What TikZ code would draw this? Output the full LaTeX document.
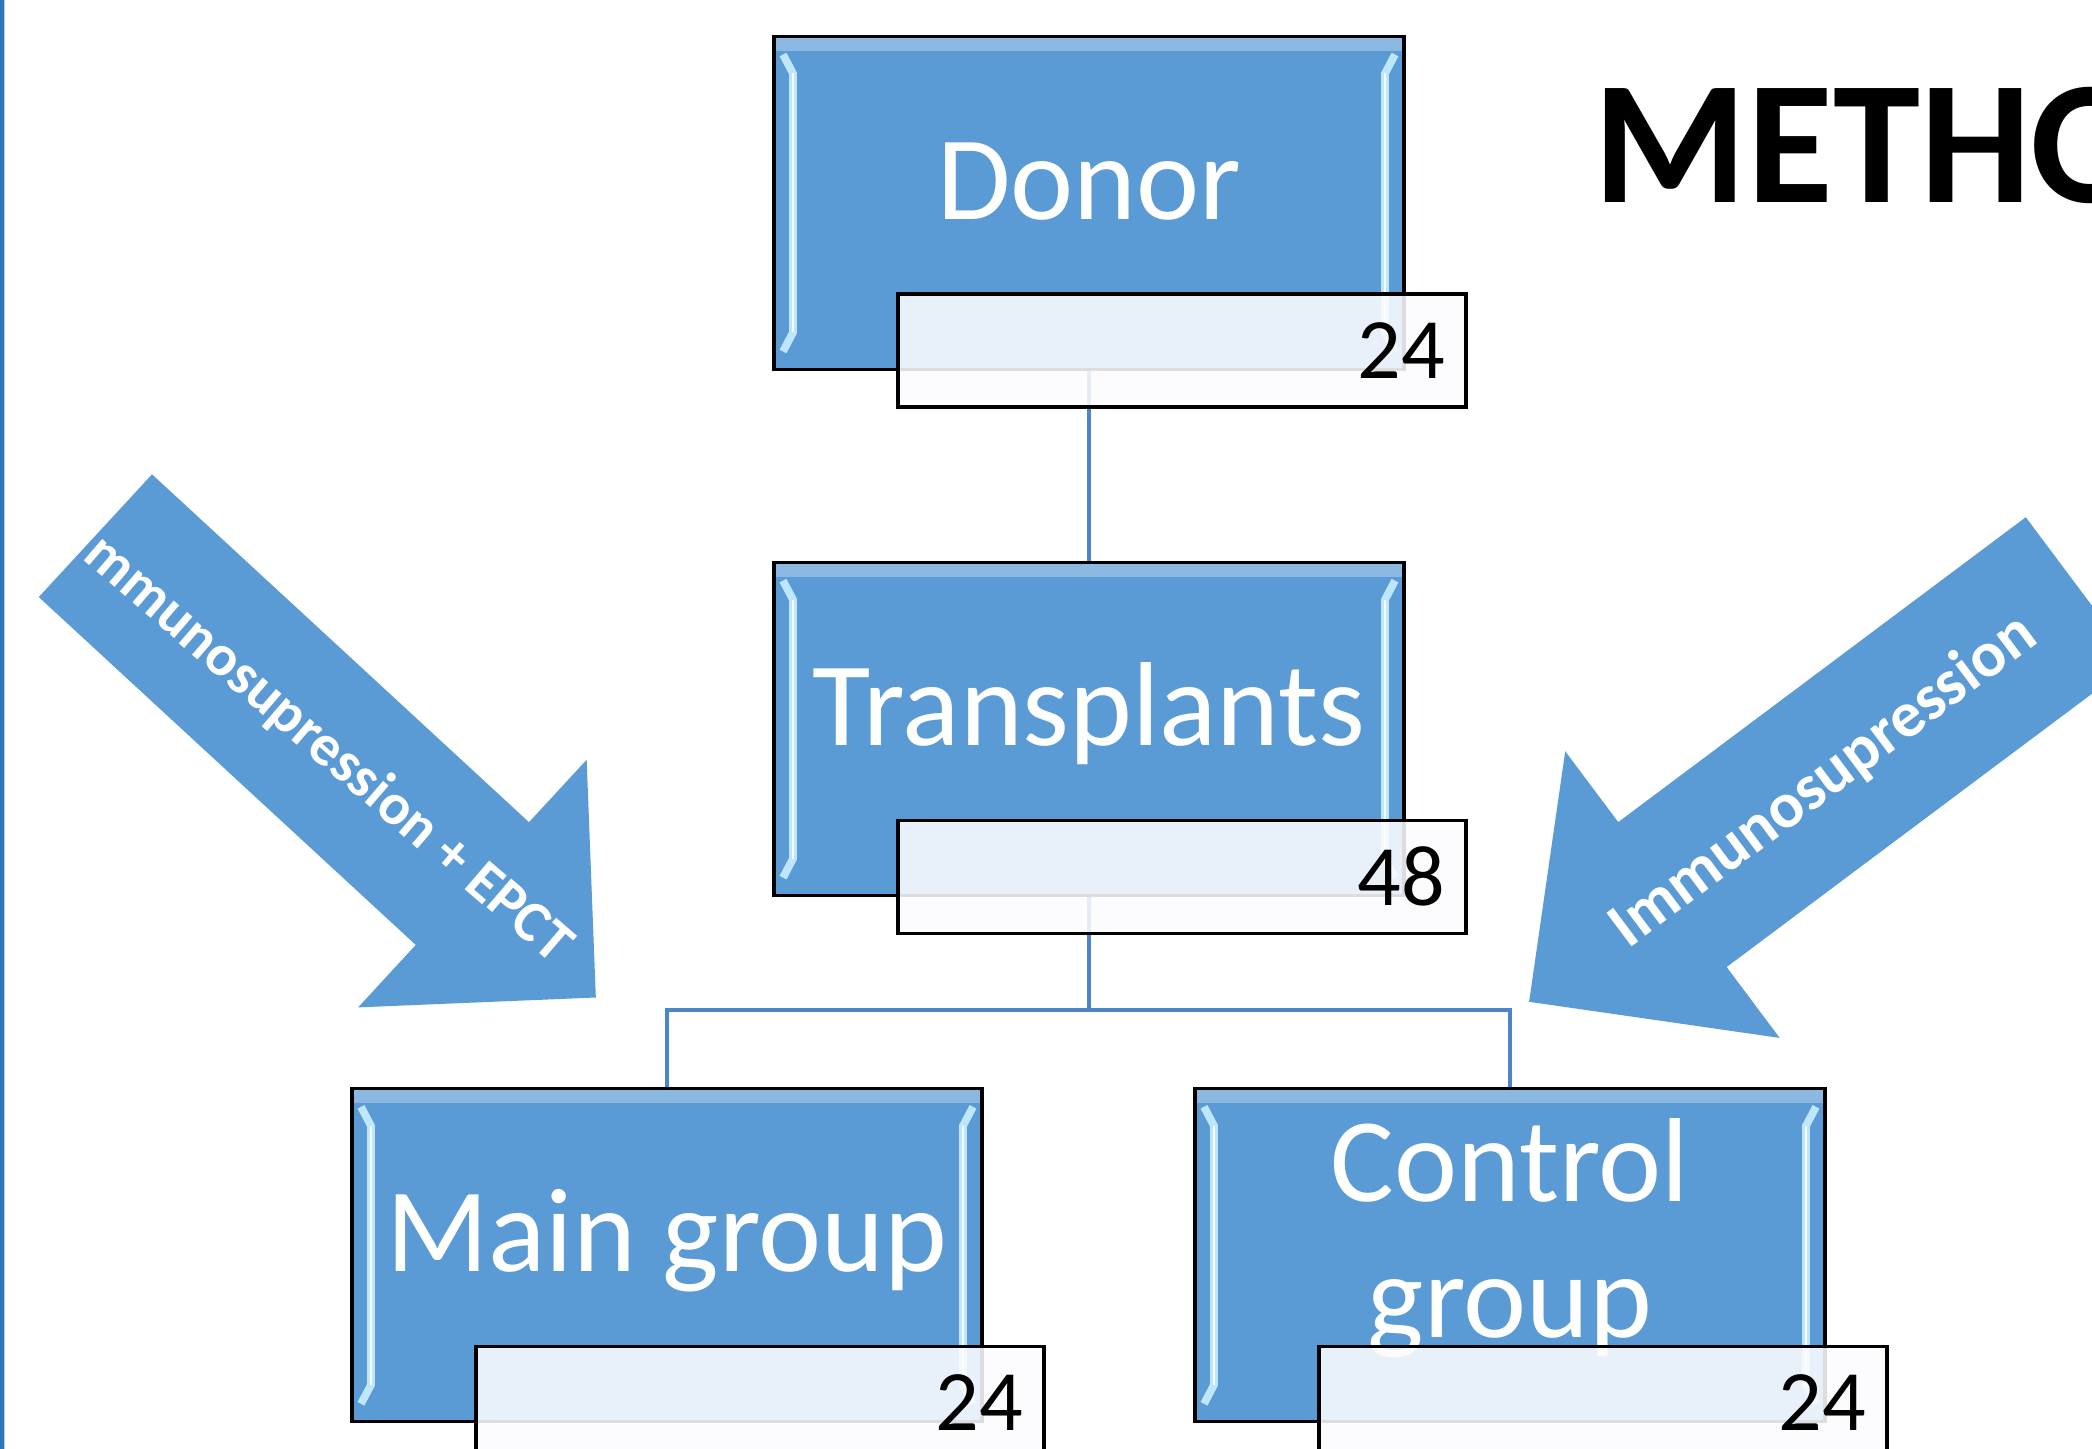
\documentclass[tikz,border=0pt]{standalone}
\usepackage{fontspec}
\setmainfont{Carlito}
\usepackage{tikz}
\usetikzlibrary{positioning}
\definecolor{boxblue}{RGB}{91,155,213}
\definecolor{linkblue}{RGB}{74,134,200}
\definecolor{edgeblue}{RGB}{46,117,182}
\definecolor{bevellight}{RGB}{190,230,252}
\definecolor{countfill}{RGB}{252,252,254}
\newcommand{\grpfont}{\fontsize{34}{38.6}\selectfont}
\newcommand{\cntfont}{\fontsize{24.5}{29}\selectfont}
\newcommand{\arrfont}{\fontsize{18.4}{22}\selectfont\bfseries}
\newcommand{\ttlfont}{\fontsize{50}{60}\selectfont\bfseries}
\tikzstyle{groupbox} = [rectangle, minimum width=6.3cm, minimum height=3.33cm, inner sep=0pt, draw=black, line width=0.9pt, fill=boxblue, text=white, font=\grpfont,
  path picture={
    \shade[top color=boxblue!70!white, bottom color=boxblue] (path picture bounding box.north west) rectangle ([yshift=-0.14cm]path picture bounding box.north east);
    \draw[bevellight, line width=2.2pt] ([shift={(0.09cm,-0.18cm)}]path picture bounding box.north west) -- ([shift={(0.19cm,-0.37cm)}]path picture bounding box.north west) -- ([shift={(0.19cm,0.37cm)}]path picture bounding box.south west) -- ([shift={(0.09cm,0.18cm)}]path picture bounding box.south west);
    \draw[bevellight, line width=2.2pt] ([shift={(-0.09cm,-0.18cm)}]path picture bounding box.north east) -- ([shift={(-0.19cm,-0.37cm)}]path picture bounding box.north east) -- ([shift={(-0.19cm,0.37cm)}]path picture bounding box.south east) -- ([shift={(-0.09cm,0.18cm)}]path picture bounding box.south east);
    \draw[white, line width=0.7pt] ([shift={(0.19cm,-0.37cm)}]path picture bounding box.north west) -- ([shift={(0.19cm,0.37cm)}]path picture bounding box.south west);
    \draw[white, line width=0.7pt] ([shift={(-0.19cm,-0.37cm)}]path picture bounding box.north east) -- ([shift={(-0.19cm,0.37cm)}]path picture bounding box.south east);
  }]
\tikzstyle{oneline} = [text height=0.85cm, text depth=0.52cm]
\tikzstyle{countbox} = [rectangle, minimum height=1.13cm, text width=5.26cm, inner xsep=0.21cm, inner ysep=0pt, align=right, draw=black, line width=0.9pt, fill=countfill, fill opacity=0.88, text opacity=1, font=\cntfont]
\tikzstyle{connector} = [draw=linkblue, line width=1pt]
\tikzstyle{arrowtext} = [text=white, font=\arrfont, inner sep=0pt, transform shape]
\tikzstyle{titletext} = [text=black, font=\ttlfont, inner sep=0pt]

\begin{document}
\begin{tikzpicture}[node distance=1.9cm]
\clip (0,0) rectangle (20.92,14.49);
\useasboundingbox (0,0) rectangle (20.92,14.49);
\fill[white] (0,0) rectangle (20.92,14.49);
\fill[edgeblue] (0,0) rectangle (0.035,14.49);
\fill[edgeblue!35] (0.035,0) rectangle (0.05,14.49);

\node (title) [titletext, anchor=base west] at (15.93,12.46) {METHODS};

\node (donor) [groupbox, oneline] at (10.89,12.46) {Donor};
\node (transplants) [groupbox, oneline, below=of donor] {Transplants};
\node (maingrp) [groupbox, oneline, below=of transplants, xshift=-4.22cm] {Main group};
\node (ctrlgrp) [groupbox, align=center, below=of transplants, xshift=4.21cm] {\rule{0pt}{0.85cm}Control\\group\rule[-0.57cm]{0pt}{0.57cm}};

\coordinate (split) at ([yshift=-1.13cm]transplants.south);
\draw [connector] (donor) -- (transplants);
\draw [connector] (transplants) -- (split) -| (maingrp);
\draw [connector] (split) -| (ctrlgrp);

\node (donorn) [countbox, below right=2.575cm and 1.24cm of donor.north west] {24};
\node (transplantsn) [countbox, below right=2.575cm and 1.24cm of transplants.north west] {48};
\node (maingrpn) [countbox, below right=2.575cm and 1.24cm of maingrp.north west] {24};
\node (ctrlgrpn) [countbox, below right=2.575cm and 1.24cm of ctrlgrp.north west] {24};

\begin{scope}[shift={(0.954,9.133)}, rotate=-42.7]
\fill[boxblue] (0,0.835) -- (5.13,0.835) -- (5.13,1.685) -- (6.81,0) -- (5.13,-1.685) -- (5.13,-0.835) -- (0,-0.835) -- cycle;
\node (epctlbl) [arrowtext, rotate=2, font=\fontsize{16.6}{20}\selectfont\bfseries] at (3.16,0) {mmunosupression + EPCT};
\end{scope}

\begin{scope}[shift={(20.80,8.593)}, rotate=216.8]
\fill[boxblue] (0,0.905) -- (5.09,0.905) -- (5.09,1.79) -- (6.88,0) -- (5.09,-1.79) -- (5.09,-0.905) -- (0,-0.905) -- cycle;
\node (immlbl) [arrowtext, rotate=180] at (3.2,0) {Immunosupression};
\end{scope}
\end{tikzpicture}
\end{document}
